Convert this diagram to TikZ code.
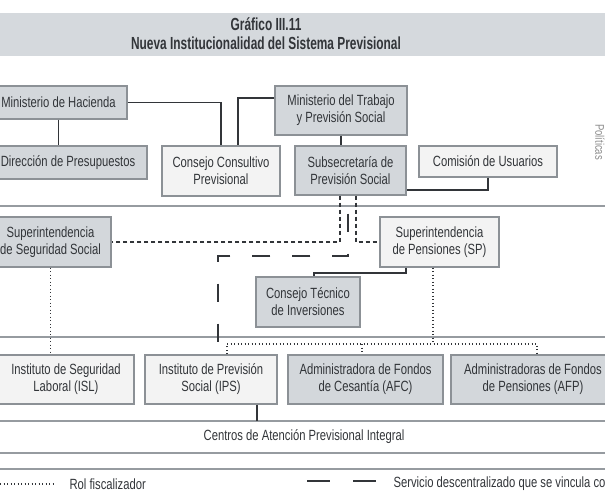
\documentclass[tikz,border=0pt]{standalone}
\usepackage{fontspec}
\setmainfont{Liberation Sans}[FakeStretch=0.76]
\newfontfamily\tfont{Liberation Sans}[FakeStretch=0.68]
\definecolor{boxgray}{RGB}{211,215,219}
\definecolor{boxlight}{RGB}{243,243,243}
\definecolor{edge}{RGB}{140,145,150}
\definecolor{ink}{RGB}{50,53,57}
\definecolor{bandline}{RGB}{150,155,160}
\definecolor{titleband}{RGB}{213,217,221}
\tikzset{
  base/.style={draw=edge, line width=1.1pt, align=center, inner sep=0pt, text=ink,
    font=\fontsize{14.8}{17}\selectfont},
  gbox/.style={base, fill=boxgray},
  lbox/.style={base, fill=boxlight},
  conn/.style={draw=ink, line width=1.4pt},
  sdash/.style={draw=ink, line width=1.3pt, dash pattern=on 4pt off 3pt},
  ldash/.style={draw=ink, line width=1.4pt, dash pattern=on 18pt off 22pt, dash phase=22pt},
  dotl/.style={draw=ink, line width=1.1pt, dash pattern=on 1pt off 2.5pt},
  bandl/.style={draw=bandline, line width=1.6pt},
  ttext/.style={text=ink, font=\tfont\bfseries\fontsize{17.5}{19}\selectfont},
  ptext/.style={text=ink, font=\fontsize{14.8}{17}\selectfont},
}
\begin{document}
\begin{tikzpicture}[x=1pt,y=-1pt]
\useasboundingbox (0,0) rectangle (605,492);
% title
\fill[titleband] (0,13) rectangle (605,56);
\node[ttext] (t1) at (266,24) {Gráfico III.11};
\node[ttext] (t2) at (266,43) {Nueva Institucionalidad del Sistema Previsional};
% band lines
\draw[bandl] (0,206) -- (605,206);
\draw[bandl] (0,337) -- (605,337);
\draw[bandl] (0,421) -- (605,421);
\draw[bandl] (0,453) -- (605,453);
\draw[bandl] (0,469) -- (605,469);
% side label
\node[rotate=-90, text=gray!90, font=\fontsize{12.5}{14}\selectfont] (pol) at (600,142) {Políticas};
% top band
\node[gbox, minimum width=137pt, minimum height=33pt] (hac) at (58.5,102.5) {Ministerio de Hacienda};
\node[gbox, minimum width=158pt, minimum height=33pt] (dir) at (68,162.5) {Dirección de Presupuestos};
\node[lbox, minimum width=118pt, minimum height=50pt] (ccp) at (221,171) {Consejo Consultivo\\Previsional};
\node[gbox, minimum width=132pt, minimum height=49pt] (mtr) at (341,110.5) {Ministerio del Trabajo\\y Previsión Social};
\node[gbox, minimum width=111pt, minimum height=49pt] (sub) at (350.5,170.5) {Subsecretaría de\\Previsión Social};
\node[lbox, minimum width=138pt, minimum height=31pt] (com) at (488,161.5) {Comisión de Usuarios};
% middle band
\node[gbox, minimum width=121pt, minimum height=50pt] (sss) at (50.5,242) {Superintendencia\\de Seguridad Social};
\node[lbox, minimum width=119pt, minimum height=50pt] (sp) at (439.5,242) {Superintendencia\\de Pensiones (SP)};
\node[gbox, minimum width=104pt, minimum height=50pt] (cti) at (308,302) {Consejo Técnico\\de Inversiones};
% bottom band
\node[lbox, minimum width=136pt, minimum height=49pt] (isl) at (66,379.5) {Instituto de Seguridad\\Laboral (ISL)};
\node[lbox, minimum width=132pt, minimum height=49pt] (ips) at (211,379.5) {Instituto de Previsión\\Social (IPS)};
\node[gbox, minimum width=155pt, minimum height=49pt] (afc) at (365.5,379.5) {Administradora de Fondos\\de Cesantía (AFC)};
\node[gbox, minimum width=164pt, minimum height=49pt] (afp) at (533,379.5) {Administradoras de Fondos\\de Pensiones (AFP)};
\node[ptext] (cen) at (304,437) {Centros de Atención Previsional Integral};
% connectors top
\draw[conn] (hac.south) -- (hac.south |- dir.north);
\draw[conn] (hac.east) -| (ccp.north);
\draw[conn] ([yshift=12.5pt]mtr.west) -| ([xshift=17pt]ccp.north);
\draw[conn] (mtr.south) -- (mtr.south |- sub.north);
\draw[conn] (com.south) |- ([yshift=-19.5pt]sub.east);
% dashed from subsecretaria
\draw[sdash] ([xshift=-10.5pt]sub.south) |- (sss.east);
\draw[sdash] ([xshift=5.5pt]sub.south) |- (sp.west);
\coordinate (k1) at (348,256);
\coordinate (k2) at (218,256);
\draw[ldash] ([xshift=-2.5pt]sub.south) -- (k1) -- (k2) -- (k2 |- ips.north);
% SP to CTI
\coordinate (k3) at (314,273);
\draw[conn, line width=1.8pt] ([xshift=-33.5pt]sp.south) |- (k3) -- (k3 |- cti.north);
% dotted supervision
\draw[dotl] (sss.south) -- (sss.south |- isl.north);
\coordinate (d0) at (433,344);
\coordinate (dl) at (227,344);
\coordinate (dm) at (362,344);
\coordinate (dr) at (537,344);
\draw[dotl] ([xshift=-6.5pt]sp.south) -- (d0);
\draw[dotl] (dl |- ips.north) -- (dl) -- (dr) -- (dr |- afp.north);
\draw[dotl] (dm) -- (dm |- afc.north);
% IPS to centros
\coordinate (c1) at (257,421);
\draw[conn] ([xshift=46pt]ips.south) -- (c1);
% legend
\coordinate (lg1) at (0,484);
\coordinate (lg2) at (55,484);
\draw[dotl] (lg1) -- (lg2);
\node[anchor=west, ptext] (lt1) at (66,484) {Rol fiscalizador};
\coordinate (lg3) at (307,481);
\coordinate (lg4) at (377,481);
\draw[ldash, dash pattern=on 23pt off 23pt, dash phase=0pt] (lg3) -- (lg4);
\node[anchor=west, ptext] (lt2) at (390,484) {Servicio descentralizado que se vincula co};
\end{tikzpicture}
\end{document}
